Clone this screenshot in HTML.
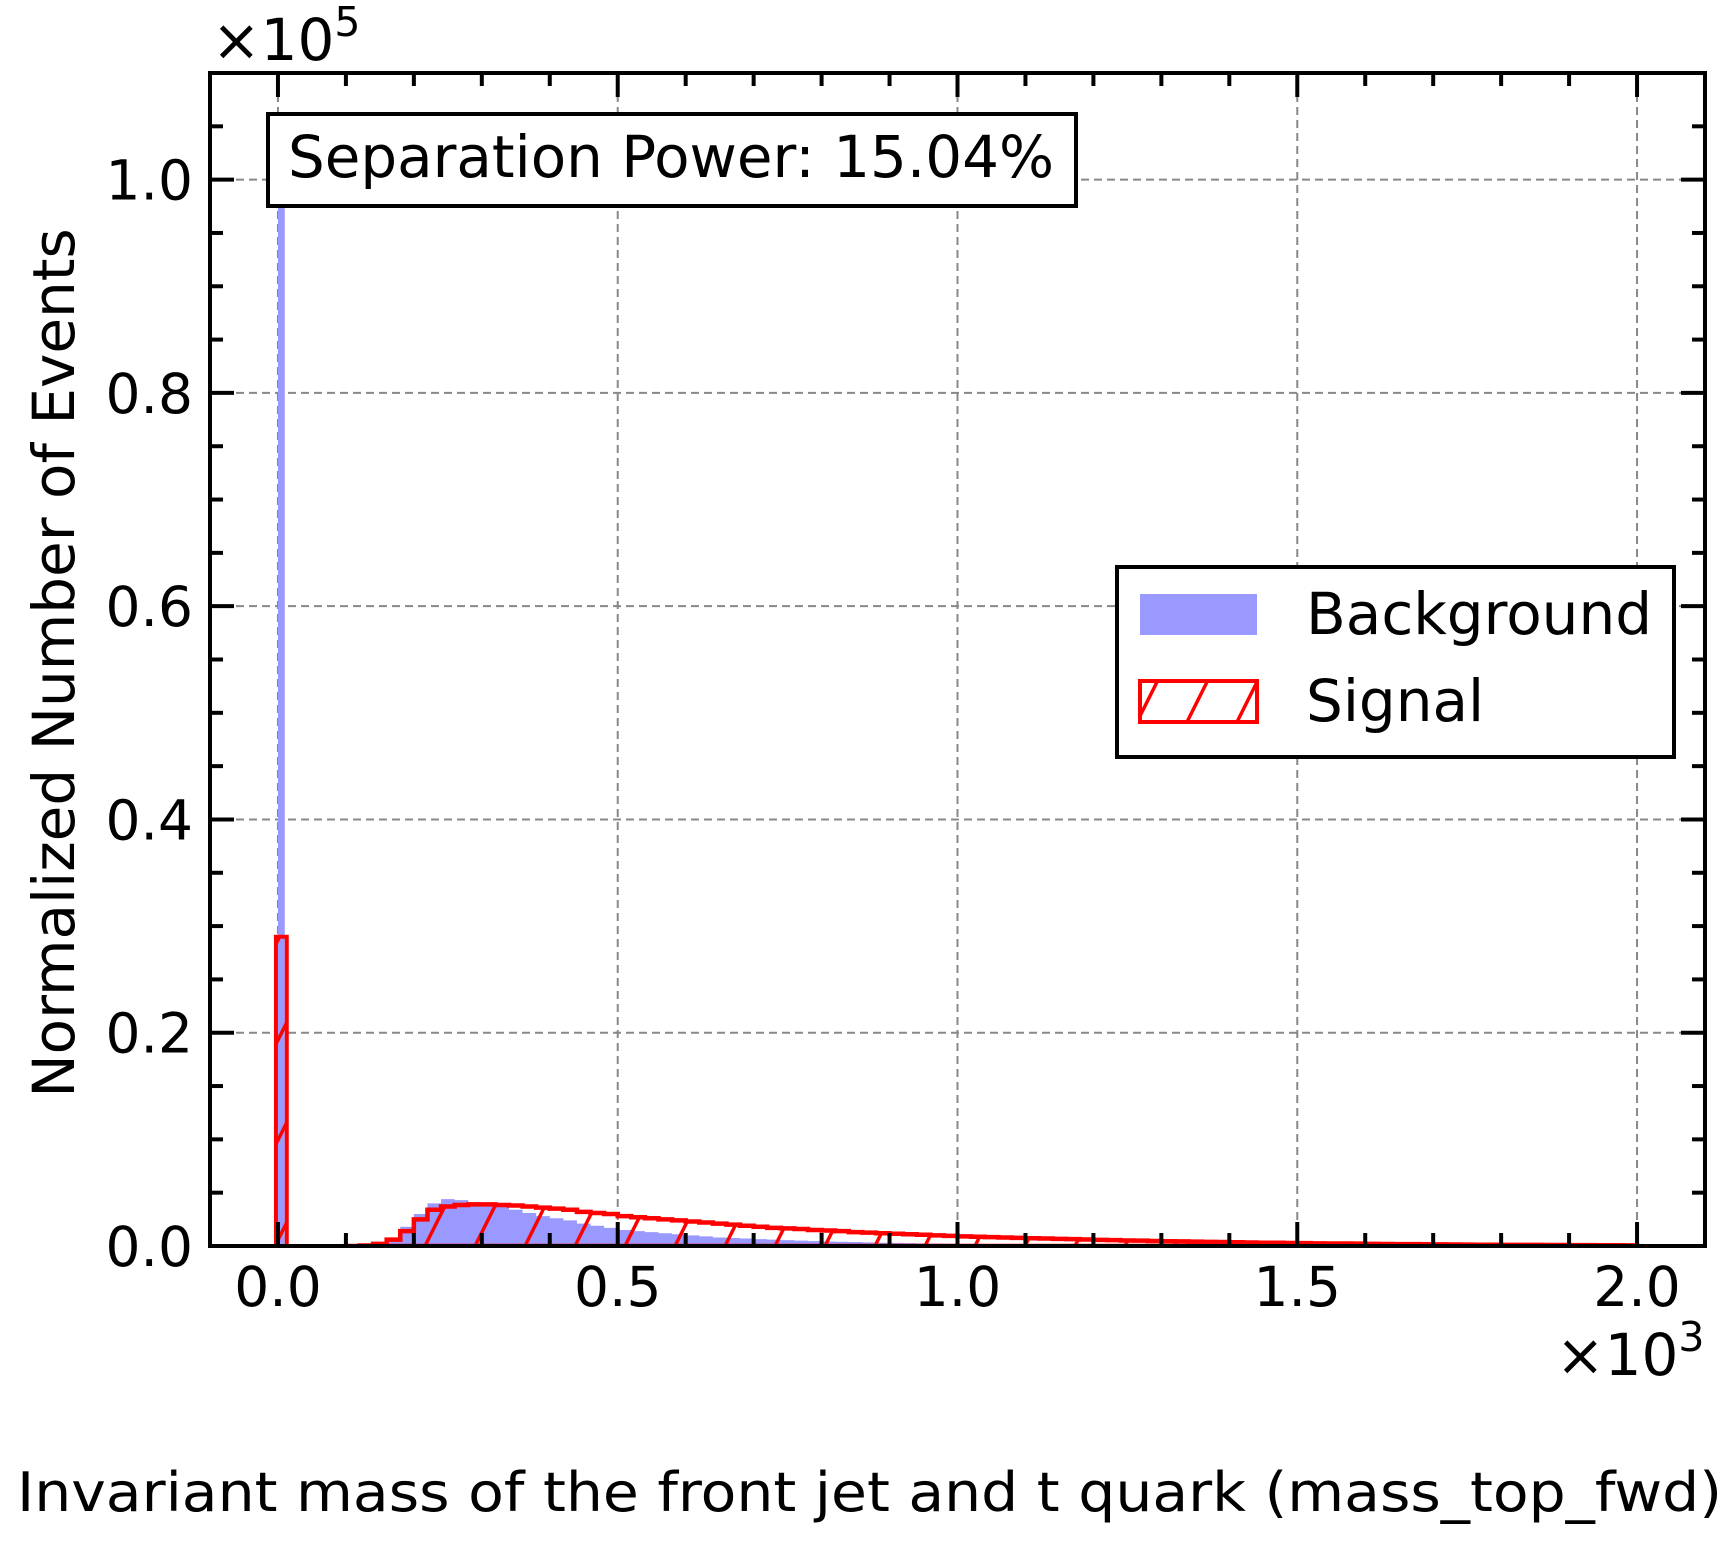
<!DOCTYPE html>
<html><head><meta charset="utf-8"><style>
html,body{margin:0;padding:0;background:#fff;}
svg{display:block;font-family:"DejaVu Sans","Liberation Sans",sans-serif;}
</style></head><body>
<svg id="chart" width="1734" height="1541" viewBox="0 0 1734 1541" xmlns="http://www.w3.org/2000/svg">
<defs>
<pattern id="hatch" patternUnits="userSpaceOnUse" width="50" height="100" patternTransform="translate(0,1246)">
<line x1="-25" y1="100" x2="25" y2="0" stroke="#ff0000" stroke-width="3.5"/>
<line x1="25" y1="100" x2="75" y2="0" stroke="#ff0000" stroke-width="3.5"/>
</pattern>
<clipPath id="plotclip"><rect x="210" y="73" width="1495" height="1173"/></clipPath>
</defs>
<g id="grid"></g>
<g id="marks" clip-path="url(#plotclip)"></g>
<g id="ticks"></g>
<rect x="210" y="73" width="1495" height="1173" fill="none" stroke="#000" stroke-width="4"/>
<text x="212" y="60" font-size="58">×10<tspan dy="-24" font-size="41">5</tspan></text>
<text x="1556" y="1375" font-size="58">×10<tspan dy="-24" font-size="41">3</tspan></text>
<text transform="translate(74,663) rotate(-90)" text-anchor="middle" font-size="58">Normalized Number of Events</text>
<text x="17" y="1511" font-size="54" textLength="1705" lengthAdjust="spacingAndGlyphs">Invariant mass of the front jet and t quark (mass_top_fwd)</text>
<g>
<rect x="268" y="114" width="808" height="92" fill="#fff" stroke="#000" stroke-width="4"/>
<text x="288" y="177" font-size="58" textLength="766" lengthAdjust="spacingAndGlyphs">Separation Power: 15.04%</text>
</g>
<g>
<rect x="1117" y="567" width="557" height="190" fill="#fff" stroke="#000" stroke-width="4"/>
<rect x="1140" y="594" width="117" height="41" fill="#9999ff"/>
<text x="1306" y="634" font-size="58">Background</text>
<rect x="1140" y="681" width="117" height="41" fill="url(#hatch)" stroke="#ff0000" stroke-width="4"/>
<text x="1306" y="721" font-size="58">Signal</text>
</g>
</svg>
<script>
const binStart = 0.10;
const binWidth = 0.02;
const spikeBg = 1.05;
const spikeSig = 0.29;
const bgValues = [0,0,0.001,0.006,0.018,0.03,0.04,0.044,0.043,0.041,0.039,0.037,0.034,0.031,0.028,0.026,0.024,0.021,0.019,0.017,0.015,0.014,0.013,0.012,0.011,0.010,0.009,0.008,0.0075,0.007,0.0065,0.006,0.0055,0.005,0.0046,0.0042,0.004,0.0037,0.0034,0.0031,0.0029,0.0027,0.0025,0.0023,0.0021,
0.002,0.0019,0.0017,0.0016,0.0015,0.0014,0.0013,0.0012,0.0011,0.001,
0.001,0.0009,0.0009,0.0008,0.0008,0.0007,0.0007,0.0006,0.0006,0.0006,
0.0005,0.0005,0.0005,0.0005,0.0005,0.0004,0.0004,0.0004,0.0004,0.0004,
0.0004,0.0003,0.0003,0.0003,0.0003,0.0003,0.0003,0.0002,0.0002,0.0002,
0.0002,0.0002,0.0002,0.0002,0.0001,0.0001,0.0001,0.0001,0.0001,0.0001];
const sigValues = [0,0.0005,0.002,0.006,0.014,0.025,0.034,0.037,0.0385,0.039,0.039,0.0385,0.038,0.037,0.036,0.035,0.034,0.032,0.031,0.030,0.028,0.027,0.026,0.025,0.024,0.023,0.022,0.021,0.020,0.019,0.018,0.017,0.0165,0.016,0.015,0.0145,0.014,0.013,0.0125,0.012,0.0115,0.011,0.0105,0.010,0.0095,
0.009,0.0087,0.0083,0.008,0.0076,0.0073,0.007,0.0067,0.0064,0.0061,
0.0058,0.0055,0.0052,0.005,0.0047,0.0045,0.0043,0.0041,0.0039,0.0037,
0.0035,0.0033,0.0031,0.003,0.0028,0.0027,0.0025,0.0024,0.0023,0.0022,
0.002,0.0019,0.0018,0.0017,0.0016,0.0015,0.0014,0.0013,0.0012,0.0012,
0.0011,0.001,0.001,0.0009,0.0009,0.0008,0.0008,0.0007,0.0007,0.0006];
const xTickLabels = ["0.0","0.5","1.0","1.5","2.0"];
const xTickValues = [0,0.5,1.0,1.5,2.0];
const yTickLabels = ["0.0","0.2","0.4","0.6","0.8","1.0"];
const yTickValues = [0,0.2,0.4,0.6,0.8,1.0];

const NS = "http://www.w3.org/2000/svg";
const X0=210,X1=1705,Y0=1246,Y1=73, XMIN=-0.1, XMAX=2.1, YMIN=0, YMAX=1.1;
function sx(v){return X0+(v-XMIN)/(XMAX-XMIN)*(X1-X0);}
function sy(v){return Y0-(v-YMIN)/(YMAX-YMIN)*(Y0-Y1);}
function mk(tag,attrs,parent){const e=document.createElementNS(NS,tag);for(const k in attrs)e.setAttribute(k,attrs[k]);parent.appendChild(e);return e;}

const grid=document.getElementById('grid'), marks=document.getElementById('marks'), ticks=document.getElementById('ticks');
xTickValues.forEach((v,i)=>{
  const g=mk('line',{x1:sx(v),x2:sx(v),y1:Y0,y2:Y1,stroke:'#888','stroke-width':2,'stroke-dasharray':'8,5'},grid);
  
  
  const t=mk('text',{x:sx(v),y:1306,'font-size':55,'text-anchor':'middle'},ticks);
  t.textContent=xTickLabels[i];
  
  
});
yTickValues.forEach((v,i)=>{
  const g=mk('line',{x1:X0,x2:X1,y1:sy(v),y2:sy(v),stroke:'#888','stroke-width':2,'stroke-dasharray':'8,5'},grid);
  
  
  const t=mk('text',{x:193,y:sy(v)+20,'font-size':55,'text-anchor':'end'},ticks);
  t.textContent=yTickLabels[i];
  
  
});
for(let k=-1;k<=21;k++){
  const v=k/10, x=sx(v), major=(k%5===0), L=major?24:13;
  mk('line',{x1:x,x2:x,y1:Y0,y2:Y0-L,stroke:'#000','stroke-width':4},ticks);
  mk('line',{x1:x,x2:x,y1:Y1,y2:Y1+L,stroke:'#000','stroke-width':4},ticks);
}
for(let k=0;k<=22;k++){
  const v=k*0.05, y=sy(v), major=(k%4===0), L=major?24:13;
  mk('line',{x1:X0,x2:X0+L,y1:y,y2:y,stroke:'#000','stroke-width':4},ticks);
  mk('line',{x1:X1,x2:X1-L,y1:y,y2:y,stroke:'#000','stroke-width':4},ticks);
}
function stepPath(vals){
  let d='M'+sx(binStart)+','+sy(0);
  vals.forEach((v,i)=>{const a=binStart+i*binWidth;d+=' L'+sx(a)+','+sy(v)+' L'+sx(a+binWidth)+','+sy(v);});
  d+=' L'+sx(binStart+vals.length*binWidth)+','+sy(0)+' Z';
  return d;
}
const bs=mk('rect',{x:sx(0),y:sy(spikeBg),width:sx(0.01)-sx(0),height:sy(0)-sy(spikeBg),fill:'#9999ff'},marks);


const bp=mk('path',{d:stepPath(bgValues),fill:'#9999ff',stroke:'none'},marks);


const ss=mk('rect',{x:sx(0)-2,y:sy(spikeSig),width:sx(0.01)-sx(0)+4,height:sy(0)-sy(spikeSig),fill:'url(#hatch)',stroke:'#ff0000','stroke-width':4},marks);


const sp=mk('path',{d:stepPath(sigValues),fill:'url(#hatch)',stroke:'#ff0000','stroke-width':4.5,'stroke-linejoin':'miter'},marks);


</script>
</body></html>
